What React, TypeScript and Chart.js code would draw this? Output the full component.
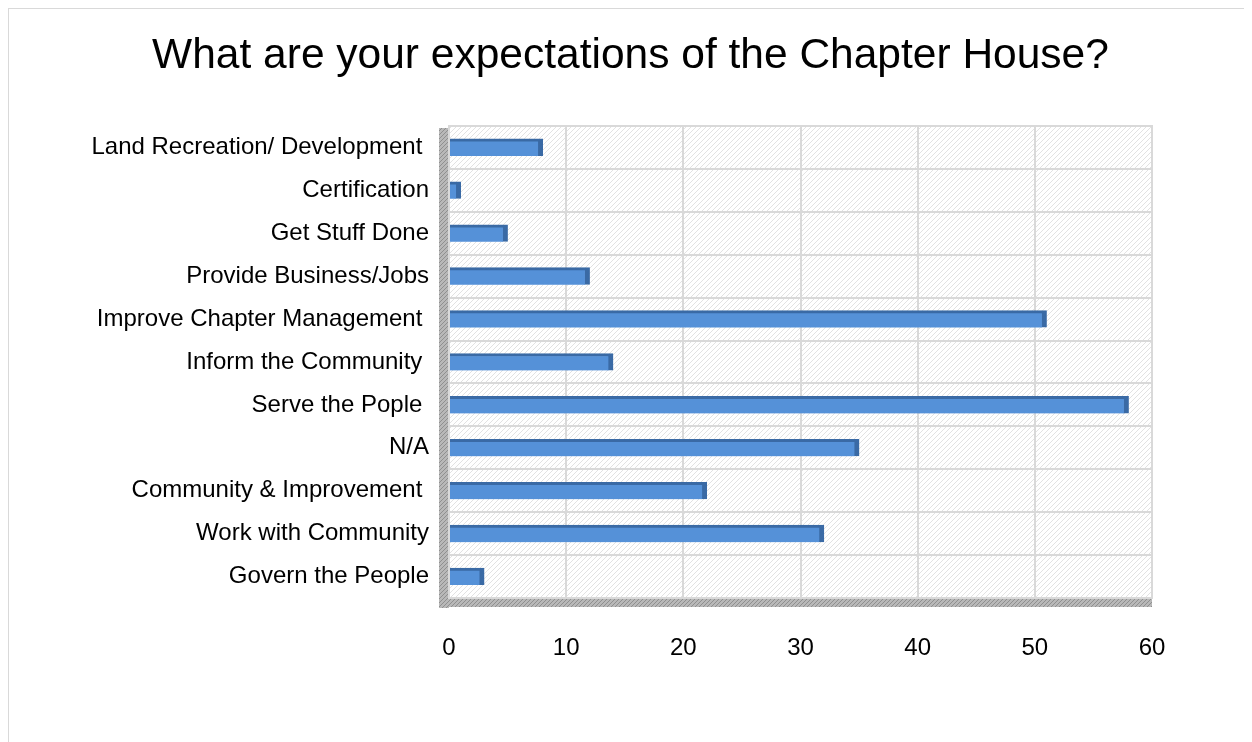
import React, { useEffect, useRef } from "react";
import { Chart, registerables } from "chart.js";

Chart.register(...registerables);

const chartTitle = "What are your expectations of the Chapter House?";

const categories: string[] = [
  "Land Recreation/ Development ",
  "Certification",
  "Get Stuff Done",
  "Provide Business/Jobs",
  "Improve Chapter Management ",
  "Inform the Community ",
  "Serve the Pople ",
  "N/A",
  "Community & Improvement ",
  "Work with Community",
  "Govern the People",
];

const responses: number[] = [8, 1, 5, 12, 51, 14, 58, 35, 22, 32, 3];

const xTicks: number[] = [0, 10, 20, 30, 40, 50, 60];

function makeHatch(line: string, bg: string, size: number) {
  const c = document.createElement("canvas");
  c.width = size;
  c.height = size;
  const g = c.getContext("2d")!;
  g.fillStyle = bg;
  g.fillRect(0, 0, size, size);
  g.strokeStyle = line;
  g.lineWidth = 1;
  g.beginPath();
  g.moveTo(0, size);
  g.lineTo(size, 0);
  g.moveTo(-1, 1);
  g.lineTo(1, -1);
  g.moveTo(size - 1, size + 1);
  g.lineTo(size + 1, size - 1);
  g.stroke();
  return g.createPattern(c, "repeat");
}

const backdropPlugin = {
  id: "backdrop",
  beforeDraw(chart: any) {
    const { ctx, chartArea } = chart;
    if (!chartArea) return;
    const { left, right, top, bottom } = chartArea;
    ctx.save();
    const wall = makeHatch("#e2e2e2", "#ffffff", 5);
    if (wall) {
      ctx.fillStyle = wall;
      ctx.fillRect(left, top, right - left, bottom - top);
    }
    const side = makeHatch("#8f8f8f", "#b8b8b8", 4);
    if (side) {
      ctx.fillStyle = side;
      ctx.fillRect(left - 10, top + 2, 10, bottom - top + 8);
      ctx.fillRect(left - 10, bottom, right - left + 10, 9);
    }
    ctx.strokeStyle = "#d9d9d9";
    ctx.lineWidth = 2;
    ctx.strokeRect(left, top, right - left, bottom - top);
    ctx.restore();
  },
};

const FONT = "'Liberation Sans', Arial, sans-serif";

export default function App() {
  const canvasRef = useRef<HTMLCanvasElement | null>(null);

  useEffect(() => {
    if (!canvasRef.current) return;
    const chart = new Chart(canvasRef.current, {
      type: "bar",
      data: {
        labels: categories,
        datasets: [
          {
            label: "Responses",
            data: responses,
            backgroundColor: "#5591d8",
            borderColor: "#3a6aa5",
            borderWidth: { top: 3, right: 5, bottom: 0, left: 0 },
            borderSkipped: false,
            barThickness: 17,
          },
        ],
      },
      options: {
        indexAxis: "y",
        animation: false,
        responsive: false,
        maintainAspectRatio: false,
        layout: { padding: 0 },
        plugins: {
          legend: { display: false },
          tooltip: { enabled: false },
          title: {
            display: true,
            text: chartTitle,
            color: "#000000",
            font: { family: FONT, size: 42.5, weight: "normal", lineHeight: 1.2 },
            padding: { top: 22, bottom: 44 },
          },
        },
        scales: {
          x: {
            min: 0,
            max: 60,
            afterBuildTicks(scale: any) {
              scale.ticks = xTicks.map((v) => ({ value: v }));
            },
            afterFit(scale: any) {
              scale.height = 144;
            },
            grid: { color: "#d9d9d9", lineWidth: 2, drawTicks: false },
            border: { display: false },
            ticks: {
              color: "#000000",
              padding: 36,
              font: { family: FONT, size: 24 },
            },
          },
          y: {
            afterFit(scale: any) {
              scale.width = 440;
            },
            grid: { color: "#d9d9d9", lineWidth: 2, drawTicks: false },
            border: { display: false },
            ticks: {
              color: "#000000",
              padding: 20,
              font: { family: FONT, size: 24 },
            },
          },
          ySpacer: {
            type: "linear",
            position: "right",
            display: true,
            afterFit(scale: any) {
              scale.width = 100;
            },
            grid: { display: false, drawTicks: false },
            border: { display: false },
            ticks: { display: false },
          },
        },
      },
      plugins: [backdropPlugin],
    } as any);
    return () => chart.destroy();
  }, []);

  return (
    <div
      style={{
        position: "relative",
        left: -1,
        top: -1,
        width: 1245,
        height: 735,
        borderTop: "2px solid #d9d9d9",
        borderLeft: "2px solid #d9d9d9",
        boxSizing: "border-box",
        background: "#ffffff",
        overflow: "hidden",
      }}
    >
      <canvas ref={canvasRef} width={1243} height={733} style={{ display: "block" }} />
    </div>
  );
}
